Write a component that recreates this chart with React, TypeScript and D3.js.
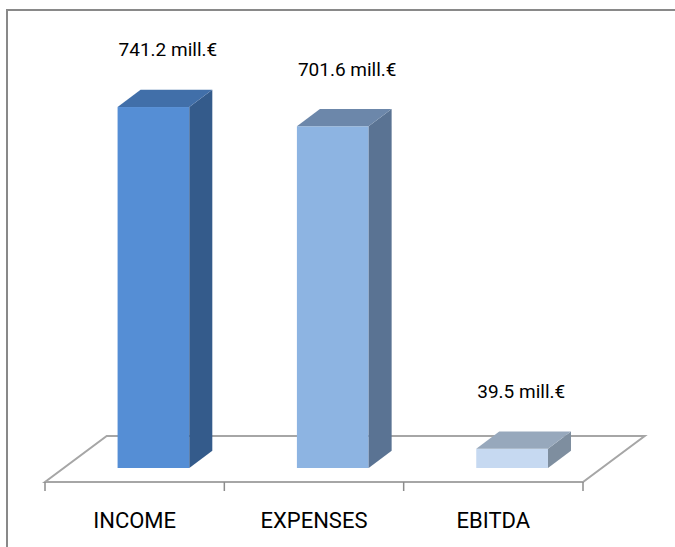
import React, { useEffect, useRef } from 'react';
import * as d3 from 'd3';

const categories = ['INCOME', 'EXPENSES', 'EBITDA'];
const values = [741.2, 701.6, 39.5];
const valueLabels = ['741.2 mill.€', '701.6 mill.€', '39.5  mill.€'];

const frontColors = ['#558ed5', '#8db4e2', '#c6d9f1'];
const topColors = ['#416fa9', '#6c87aa', '#97a8bc'];
const sideColors = ['#345b8b', '#5a7393', '#7e8e9f'];

const W = 675;
const H = 547;
const FONT = 'Roboto, "Noto Sans", sans-serif';

export default function App() {
  const svgRef = useRef<SVGSVGElement>(null);

  useEffect(() => {
    if (!svgRef.current) return;
    const svg = d3.select(svgRef.current);
    svg.selectAll('*').remove();

    // floor geometry
    const floorFrontY = 482;
    const floorDepthX = 61.7;
    const floorDepthY = 46;
    const baseY = 468; // bar front bottom
    const frontFrac = (floorFrontY - baseY) / floorDepthY;
    const barDx = 23;
    const barDy = 17.3;

    const x = d3.scaleBand<string>()
      .domain(categories)
      .range([45, 583])
      .paddingInner(0)
      .paddingOuter(0);

    const y = d3.scaleLinear()
      .domain([0, 800])
      .range([baseY, baseY - 389.6]);

    const bw = x.bandwidth();

    // frame (top and left edges only, the rest runs off the picture)
    svg.append('path')
      .attr('d', `M7,${H}V10H${W}`)
      .attr('fill', 'none')
      .attr('stroke', '#898989')
      .attr('stroke-width', 2);

    // floor
    const x0 = x.range()[0];
    const x1 = x.range()[1];
    const floor = [
      [x0, floorFrontY],
      [x1, floorFrontY],
      [x1 + floorDepthX, floorFrontY - floorDepthY],
      [x0 + floorDepthX, floorFrontY - floorDepthY],
    ];
    svg.append('path')
      .attr('d', d3.line()(floor as [number, number][]) + 'Z')
      .attr('fill', 'none')
      .attr('stroke', '#a6a6a6')
      .attr('stroke-width', 2);

    // ticks at band edges
    const tickXs = categories.map(c => x(c) as number).concat([x1]);
    svg.selectAll('.tick')
      .data(tickXs)
      .join('line')
      .attr('x1', d => d)
      .attr('x2', d => d)
      .attr('y1', floorFrontY)
      .attr('y2', floorFrontY + 9)
      .attr('stroke', '#8c8c8c')
      .attr('stroke-width', 1.5);

    // bars
    categories.forEach((c, i) => {
      const bx = (x(c) as number) + 0.3 * bw + frontFrac * floorDepthX;
      const w = 0.4 * bw;
      const top = y(values[i]);
      const g = svg.append('g');

      g.append('rect')
        .attr('x', bx)
        .attr('y', top)
        .attr('width', w)
        .attr('height', baseY - top)
        .attr('fill', frontColors[i]);

      const side = [
        [bx + w, top],
        [bx + w + barDx, top - barDy],
        [bx + w + barDx, baseY - barDy],
        [bx + w, baseY],
      ];
      g.append('path')
        .attr('d', d3.line()(side as [number, number][]) + 'Z')
        .attr('fill', sideColors[i]);

      const topFace = [
        [bx, top],
        [bx + barDx, top - barDy],
        [bx + w + barDx, top - barDy],
        [bx + w, top],
      ];
      g.append('path')
        .attr('d', d3.line()(topFace as [number, number][]) + 'Z')
        .attr('fill', topColors[i]);

      // value label
      g.append('text')
        .attr('x', bx + 1)
        .attr('y', top - barDy - 40)
        .attr('dominant-baseline', 'central')
        .attr('font-family', FONT)
        .attr('font-size', 19)
        .attr('fill', '#000')
        .text(valueLabels[i]);
    });

    // category labels
    svg.selectAll('.cat')
      .data(categories)
      .join('text')
      .attr('x', d => (x(d) as number) + bw / 2)
      .attr('y', 520)
      .attr('text-anchor', 'middle')
      .attr('dominant-baseline', 'central')
      .attr('font-family', FONT)
      .attr('font-size', 22)
      .attr('fill', '#000')
      .text(d => d);
  }, []);

  return (
    <svg
      ref={svgRef}
      width={W}
      height={H}
      style={{ position: 'absolute', left: 0, top: 0, background: '#fff' }}
    />
  );
}
